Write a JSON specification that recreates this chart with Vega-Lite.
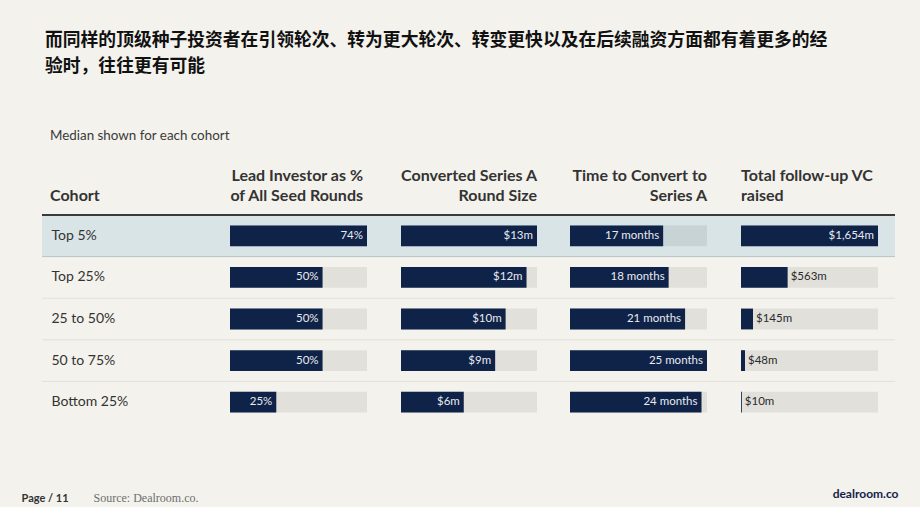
{
  "$schema": "https://vega.github.io/schema/vega-lite/v6.json",
  "background": "#f3f2ec",
  "padding": {"left": 21, "top": 32, "right": 22, "bottom": 4},
  "config": {"view": {"stroke": null}, "font": "Lato"},
  "title": {
    "text": ["而同样的顶级种子投资者在引领轮次、转为更大轮次、转变更快以及在后续融资方面都有着更多的经", "验时，往往更有可能"],
    "anchor": "start", "frame": "group", "dx": 3, "offset": 53,
    "font": "Noto Sans CJK SC", "fontSize": 17.8, "fontWeight": "bold", "color": "#111111", "lineHeight": 25.5
  },
  "data": {"values": [
    {"cohort": "Top 5%", "lead": 0.74, "lead_label": "74%", "size": 13, "size_label": "$13m", "months": 17, "months_label": "17 months", "vc": 1654, "vc_label": "$1,654m"},
    {"cohort": "Top 25%", "lead": 0.50, "lead_label": "50%", "size": 12, "size_label": "$12m", "months": 18, "months_label": "18 months", "vc": 563, "vc_label": "$563m"},
    {"cohort": "25 to 50%", "lead": 0.50, "lead_label": "50%", "size": 10, "size_label": "$10m", "months": 21, "months_label": "21 months", "vc": 145, "vc_label": "$145m"},
    {"cohort": "50 to 75%", "lead": 0.50, "lead_label": "50%", "size": 9, "size_label": "$9m", "months": 25, "months_label": "25 months", "vc": 48, "vc_label": "$48m"},
    {"cohort": "Bottom 25%", "lead": 0.25, "lead_label": "25%", "size": 6, "size_label": "$6m", "months": 24, "months_label": "24 months", "vc": 10, "vc_label": "$10m"}
  ]},
  "spacing": 0,
  "bounds": "flush",
  "resolve": {"scale": {"x": "independent", "y": "shared"}},
  "hconcat": [
    {
      "width": 188, "height": 208,
      "title": {"text": "Median shown for each cohort", "subtitle": "Cohort", "anchor": "start", "frame": "group", "dx": 8, "offset": 10,
        "font": "Lato", "fontSize": 13.4, "fontWeight": "normal", "color": "#3a3a3a",
        "subtitleFont": "Lato", "subtitleFontSize": 16, "subtitleFontWeight": "bold", "subtitleColor": "#333333", "subtitlePadding": 46},
      "layer": [
        {"transform": [{"filter": "datum.cohort == 'Top 5%'"}], "mark": {"type": "rect", "color": "#d8e4e6"},
          "encoding": {"y": {"field": "cohort", "type": "nominal", "scale": {"domain": ["Top 5%", "Top 25%", "25 to 50%", "50 to 75%", "Bottom 25%"], "paddingInner": 0, "paddingOuter": 0},
            "axis": {"orient": "left", "domain": false, "ticks": false, "tickSize": 0, "grid": false, "title": null, "labelPadding": -9, "labelAlign": "left", "labelBaseline": "middle", "labelFont": "Lato", "labelFontSize": 14, "labelColor": "#333333"}}}},
        {"transform": [{"filter": "datum.cohort == 'Top 5%'"}], "mark": {"type": "rule", "color": "#3a3a3a", "strokeWidth": 2},
          "encoding": {"y": {"field": "cohort", "type": "nominal", "bandPosition": 0, "scale": {"domain": ["Top 5%", "Top 25%", "25 to 50%", "50 to 75%", "Bottom 25%"], "paddingInner": 0, "paddingOuter": 0},
            "axis": {"orient": "left", "domain": false, "ticks": false, "tickSize": 0, "grid": false, "title": null, "labelPadding": -9, "labelAlign": "left", "labelBaseline": "middle", "labelFont": "Lato", "labelFontSize": 14, "labelColor": "#333333"}}}},
        {"transform": [{"filter": "datum.cohort == 'Top 25%'"}], "mark": {"type": "rule", "color": "#b9c4c7", "strokeWidth": 1},
          "encoding": {"y": {"field": "cohort", "type": "nominal", "bandPosition": 0, "scale": {"domain": ["Top 5%", "Top 25%", "25 to 50%", "50 to 75%", "Bottom 25%"], "paddingInner": 0, "paddingOuter": 0},
            "axis": {"orient": "left", "domain": false, "ticks": false, "tickSize": 0, "grid": false, "title": null, "labelPadding": -9, "labelAlign": "left", "labelBaseline": "middle", "labelFont": "Lato", "labelFontSize": 14, "labelColor": "#333333"}}}},
        {"transform": [{"filter": "datum.cohort != 'Top 5%' && datum.cohort != 'Top 25%'"}], "mark": {"type": "rule", "color": "#e2e0d9", "strokeWidth": 1},
          "encoding": {"y": {"field": "cohort", "type": "nominal", "bandPosition": 0, "scale": {"domain": ["Top 5%", "Top 25%", "25 to 50%", "50 to 75%", "Bottom 25%"], "paddingInner": 0, "paddingOuter": 0},
            "axis": {"orient": "left", "domain": false, "ticks": false, "tickSize": 0, "grid": false, "title": null, "labelPadding": -9, "labelAlign": "left", "labelBaseline": "middle", "labelFont": "Lato", "labelFontSize": 14, "labelColor": "#333333"}}}}
      ]
    },
    {
      "width": 137, "height": 208,
      "title": {"text": ["Lead Investor as %", "of All Seed Rounds"], "anchor": "end", "frame": "group", "dx": -4, "offset": 10, "font": "Lato", "fontSize": 16, "fontWeight": "bold", "color": "#333333", "lineHeight": 20},
      "layer": [
        {"transform": [{"filter": "datum.cohort == 'Top 5%'"}], "mark": {"type": "rect", "color": "#d8e4e6"}, "encoding": {"y": {"field": "cohort", "type": "nominal", "axis": null}}},
        {"transform": [{"filter": "datum.cohort == 'Top 5%'"}], "mark": {"type": "rule", "color": "#3a3a3a", "strokeWidth": 2}, "encoding": {"y": {"field": "cohort", "type": "nominal", "bandPosition": 0, "axis": null}}},
        {"transform": [{"filter": "datum.cohort == 'Top 25%'"}], "mark": {"type": "rule", "color": "#b9c4c7", "strokeWidth": 1}, "encoding": {"y": {"field": "cohort", "type": "nominal", "bandPosition": 0, "axis": null}}},
        {"transform": [{"filter": "datum.cohort != 'Top 5%' && datum.cohort != 'Top 25%'"}], "mark": {"type": "rule", "color": "#e2e0d9", "strokeWidth": 1}, "encoding": {"y": {"field": "cohort", "type": "nominal", "bandPosition": 0, "axis": null}}},
        {"mark": {"type": "bar", "color": "#000000", "opacity": 0.07, "height": {"band": 0.5}}, "encoding": {"y": {"field": "cohort", "type": "nominal", "axis": null}}},
        {"mark": {"type": "bar", "color": "#0f2248", "height": {"band": 0.5}},
          "encoding": {"y": {"field": "cohort", "type": "nominal", "axis": null},
            "x": {"field": "lead", "type": "quantitative", "scale": {"nice": false, "zero": true},
              "axis": {"domain": false, "ticks": false, "labels": false, "grid": false, "title": "Page / 11", "titleX": -209, "titleY": 78, "titleAlign": "left", "titleAngle": 0, "titleBaseline": "alphabetic", "titleFont": "Lato", "titleFontSize": 11, "titleFontWeight": "bold", "titleColor": "#333333"}}}},
        {"mark": {"type": "text", "align": "right", "baseline": "middle", "dx": -4, "color": "#e8ebf0", "fontSize": 11.5, "font": "Lato"},
          "encoding": {"y": {"field": "cohort", "type": "nominal", "axis": null},
            "x": {"field": "lead", "type": "quantitative",
              "axis": {"domain": false, "ticks": false, "labels": false, "grid": false, "title": "Page / 11", "titleX": -209, "titleY": 78, "titleAlign": "left", "titleAngle": 0, "titleBaseline": "alphabetic", "titleFont": "Lato", "titleFontSize": 11, "titleFontWeight": "bold", "titleColor": "#333333"}},
            "text": {"field": "lead_label"}}}
      ]
    },
    {
      "width": 34, "height": 208,
      "layer": [
        {"transform": [{"filter": "datum.cohort == 'Top 5%'"}], "mark": {"type": "rect", "color": "#d8e4e6"}, "encoding": {"y": {"field": "cohort", "type": "nominal", "axis": null}}},
        {"transform": [{"filter": "datum.cohort == 'Top 5%'"}], "mark": {"type": "rule", "color": "#3a3a3a", "strokeWidth": 2}, "encoding": {"y": {"field": "cohort", "type": "nominal", "bandPosition": 0, "axis": null}}},
        {"transform": [{"filter": "datum.cohort == 'Top 25%'"}], "mark": {"type": "rule", "color": "#b9c4c7", "strokeWidth": 1}, "encoding": {"y": {"field": "cohort", "type": "nominal", "bandPosition": 0, "axis": null}}},
        {"transform": [{"filter": "datum.cohort != 'Top 5%' && datum.cohort != 'Top 25%'"}], "mark": {"type": "rule", "color": "#e2e0d9", "strokeWidth": 1}, "encoding": {"y": {"field": "cohort", "type": "nominal", "bandPosition": 0, "axis": null}}}
      ]
    },
    {
      "width": 136, "height": 208,
      "title": {"text": ["Converted Series A", "Round Size"], "anchor": "end", "frame": "group", "offset": 10, "font": "Lato", "fontSize": 16, "fontWeight": "bold", "color": "#333333", "lineHeight": 20},
      "layer": [
        {"transform": [{"filter": "datum.cohort == 'Top 5%'"}], "mark": {"type": "rect", "color": "#d8e4e6"}, "encoding": {"y": {"field": "cohort", "type": "nominal", "axis": null}}},
        {"transform": [{"filter": "datum.cohort == 'Top 5%'"}], "mark": {"type": "rule", "color": "#3a3a3a", "strokeWidth": 2}, "encoding": {"y": {"field": "cohort", "type": "nominal", "bandPosition": 0, "axis": null}}},
        {"transform": [{"filter": "datum.cohort == 'Top 25%'"}], "mark": {"type": "rule", "color": "#b9c4c7", "strokeWidth": 1}, "encoding": {"y": {"field": "cohort", "type": "nominal", "bandPosition": 0, "axis": null}}},
        {"transform": [{"filter": "datum.cohort != 'Top 5%' && datum.cohort != 'Top 25%'"}], "mark": {"type": "rule", "color": "#e2e0d9", "strokeWidth": 1}, "encoding": {"y": {"field": "cohort", "type": "nominal", "bandPosition": 0, "axis": null}}},
        {"mark": {"type": "bar", "color": "#000000", "opacity": 0.07, "height": {"band": 0.5}}, "encoding": {"y": {"field": "cohort", "type": "nominal", "axis": null}}},
        {"mark": {"type": "bar", "color": "#0f2248", "height": {"band": 0.5}},
          "encoding": {"y": {"field": "cohort", "type": "nominal", "axis": null},
            "x": {"field": "size", "type": "quantitative", "scale": {"nice": false, "zero": true},
              "axis": {"domain": false, "ticks": false, "labels": false, "grid": false, "title": "Source: Dealroom.co.", "titleX": -308, "titleY": 78, "titleAlign": "left", "titleAngle": 0, "titleBaseline": "alphabetic", "titleFont": "Liberation Serif", "titleFontSize": 12, "titleFontWeight": "normal", "titleColor": "#6e6e6e"}}}},
        {"mark": {"type": "text", "align": "right", "baseline": "middle", "dx": -4, "color": "#e8ebf0", "fontSize": 11.5, "font": "Lato"},
          "encoding": {"y": {"field": "cohort", "type": "nominal", "axis": null},
            "x": {"field": "size", "type": "quantitative",
              "axis": {"domain": false, "ticks": false, "labels": false, "grid": false, "title": "Source: Dealroom.co.", "titleX": -308, "titleY": 78, "titleAlign": "left", "titleAngle": 0, "titleBaseline": "alphabetic", "titleFont": "Liberation Serif", "titleFontSize": 12, "titleFontWeight": "normal", "titleColor": "#6e6e6e"}},
            "text": {"field": "size_label"}}}
      ]
    },
    {
      "width": 33, "height": 208,
      "layer": [
        {"transform": [{"filter": "datum.cohort == 'Top 5%'"}], "mark": {"type": "rect", "color": "#d8e4e6"}, "encoding": {"y": {"field": "cohort", "type": "nominal", "axis": null}}},
        {"transform": [{"filter": "datum.cohort == 'Top 5%'"}], "mark": {"type": "rule", "color": "#3a3a3a", "strokeWidth": 2}, "encoding": {"y": {"field": "cohort", "type": "nominal", "bandPosition": 0, "axis": null}}},
        {"transform": [{"filter": "datum.cohort == 'Top 25%'"}], "mark": {"type": "rule", "color": "#b9c4c7", "strokeWidth": 1}, "encoding": {"y": {"field": "cohort", "type": "nominal", "bandPosition": 0, "axis": null}}},
        {"transform": [{"filter": "datum.cohort != 'Top 5%' && datum.cohort != 'Top 25%'"}], "mark": {"type": "rule", "color": "#e2e0d9", "strokeWidth": 1}, "encoding": {"y": {"field": "cohort", "type": "nominal", "bandPosition": 0, "axis": null}}}
      ]
    },
    {
      "width": 137, "height": 208,
      "title": {"text": ["Time to Convert to", "Series A"], "anchor": "end", "frame": "group", "offset": 10, "font": "Lato", "fontSize": 16, "fontWeight": "bold", "color": "#333333", "lineHeight": 20},
      "layer": [
        {"transform": [{"filter": "datum.cohort == 'Top 5%'"}], "mark": {"type": "rect", "color": "#d8e4e6"}, "encoding": {"y": {"field": "cohort", "type": "nominal", "axis": null}}},
        {"transform": [{"filter": "datum.cohort == 'Top 5%'"}], "mark": {"type": "rule", "color": "#3a3a3a", "strokeWidth": 2}, "encoding": {"y": {"field": "cohort", "type": "nominal", "bandPosition": 0, "axis": null}}},
        {"transform": [{"filter": "datum.cohort == 'Top 25%'"}], "mark": {"type": "rule", "color": "#b9c4c7", "strokeWidth": 1}, "encoding": {"y": {"field": "cohort", "type": "nominal", "bandPosition": 0, "axis": null}}},
        {"transform": [{"filter": "datum.cohort != 'Top 5%' && datum.cohort != 'Top 25%'"}], "mark": {"type": "rule", "color": "#e2e0d9", "strokeWidth": 1}, "encoding": {"y": {"field": "cohort", "type": "nominal", "bandPosition": 0, "axis": null}}},
        {"mark": {"type": "bar", "color": "#000000", "opacity": 0.07, "height": {"band": 0.5}}, "encoding": {"y": {"field": "cohort", "type": "nominal", "axis": null}}},
        {"mark": {"type": "bar", "color": "#0f2248", "height": {"band": 0.5}},
          "encoding": {"y": {"field": "cohort", "type": "nominal", "axis": null},
            "x": {"field": "months", "type": "quantitative", "scale": {"nice": false, "zero": true}, "axis": null}}},
        {"mark": {"type": "text", "align": "right", "baseline": "middle", "dx": -4, "color": "#e8ebf0", "fontSize": 11.5, "font": "Lato"},
          "encoding": {"y": {"field": "cohort", "type": "nominal", "axis": null},
            "x": {"field": "months", "type": "quantitative", "axis": null},
            "text": {"field": "months_label"}}}
      ]
    },
    {
      "width": 34, "height": 208,
      "layer": [
        {"transform": [{"filter": "datum.cohort == 'Top 5%'"}], "mark": {"type": "rect", "color": "#d8e4e6"}, "encoding": {"y": {"field": "cohort", "type": "nominal", "axis": null}}},
        {"transform": [{"filter": "datum.cohort == 'Top 5%'"}], "mark": {"type": "rule", "color": "#3a3a3a", "strokeWidth": 2}, "encoding": {"y": {"field": "cohort", "type": "nominal", "bandPosition": 0, "axis": null}}},
        {"transform": [{"filter": "datum.cohort == 'Top 25%'"}], "mark": {"type": "rule", "color": "#b9c4c7", "strokeWidth": 1}, "encoding": {"y": {"field": "cohort", "type": "nominal", "bandPosition": 0, "axis": null}}},
        {"transform": [{"filter": "datum.cohort != 'Top 5%' && datum.cohort != 'Top 25%'"}], "mark": {"type": "rule", "color": "#e2e0d9", "strokeWidth": 1}, "encoding": {"y": {"field": "cohort", "type": "nominal", "bandPosition": 0, "axis": null}}}
      ]
    },
    {
      "width": 137, "height": 208,
      "title": {"text": ["Total follow-up VC", "raised"], "anchor": "start", "frame": "group", "offset": 10, "font": "Lato", "fontSize": 16, "fontWeight": "bold", "color": "#333333", "lineHeight": 20},
      "layer": [
        {"transform": [{"filter": "datum.cohort == 'Top 5%'"}], "mark": {"type": "rect", "color": "#d8e4e6"}, "encoding": {"y": {"field": "cohort", "type": "nominal", "axis": null}}},
        {"transform": [{"filter": "datum.cohort == 'Top 5%'"}], "mark": {"type": "rule", "color": "#3a3a3a", "strokeWidth": 2}, "encoding": {"y": {"field": "cohort", "type": "nominal", "bandPosition": 0, "axis": null}}},
        {"transform": [{"filter": "datum.cohort == 'Top 25%'"}], "mark": {"type": "rule", "color": "#b9c4c7", "strokeWidth": 1}, "encoding": {"y": {"field": "cohort", "type": "nominal", "bandPosition": 0, "axis": null}}},
        {"transform": [{"filter": "datum.cohort != 'Top 5%' && datum.cohort != 'Top 25%'"}], "mark": {"type": "rule", "color": "#e2e0d9", "strokeWidth": 1}, "encoding": {"y": {"field": "cohort", "type": "nominal", "bandPosition": 0, "axis": null}}},
        {"mark": {"type": "bar", "color": "#000000", "opacity": 0.07, "height": {"band": 0.5}}, "encoding": {"y": {"field": "cohort", "type": "nominal", "axis": null}}},
        {"mark": {"type": "bar", "color": "#0f2248", "height": {"band": 0.5}},
          "encoding": {"y": {"field": "cohort", "type": "nominal", "axis": null},
            "x": {"field": "vc", "type": "quantitative", "scale": {"nice": false, "zero": true},
              "axis": {"domain": false, "ticks": false, "labels": false, "grid": false, "title": "dealroom.co", "titleX": 157, "titleY": 74, "titleAlign": "right", "titleAngle": 0, "titleBaseline": "alphabetic", "titleFont": "Lato", "titleFontSize": 12, "titleFontWeight": "bold", "titleColor": "#14234a"}}}},
        {"transform": [{"filter": "datum.vc >= 1000"}],
          "mark": {"type": "text", "align": "right", "baseline": "middle", "dx": -4, "color": "#e8ebf0", "fontSize": 11.5, "font": "Lato"},
          "encoding": {"y": {"field": "cohort", "type": "nominal", "axis": null},
            "x": {"field": "vc", "type": "quantitative",
              "axis": {"domain": false, "ticks": false, "labels": false, "grid": false, "title": "dealroom.co", "titleX": 157, "titleY": 74, "titleAlign": "right", "titleAngle": 0, "titleBaseline": "alphabetic", "titleFont": "Lato", "titleFontSize": 12, "titleFontWeight": "bold", "titleColor": "#14234a"}},
            "text": {"field": "vc_label"}}},
        {"transform": [{"filter": "datum.vc < 1000"}],
          "mark": {"type": "text", "align": "left", "baseline": "middle", "dx": 3, "color": "#2b2b2b", "fontSize": 11.5, "font": "Lato"},
          "encoding": {"y": {"field": "cohort", "type": "nominal", "axis": null},
            "x": {"field": "vc", "type": "quantitative",
              "axis": {"domain": false, "ticks": false, "labels": false, "grid": false, "title": "dealroom.co", "titleX": 157, "titleY": 74, "titleAlign": "right", "titleAngle": 0, "titleBaseline": "alphabetic", "titleFont": "Lato", "titleFontSize": 12, "titleFontWeight": "bold", "titleColor": "#14234a"}},
            "text": {"field": "vc_label"}}}
      ]
    },
    {
      "width": 17, "height": 208,
      "layer": [
        {"transform": [{"filter": "datum.cohort == 'Top 5%'"}], "mark": {"type": "rect", "color": "#d8e4e6"}, "encoding": {"y": {"field": "cohort", "type": "nominal", "axis": null}}},
        {"transform": [{"filter": "datum.cohort == 'Top 5%'"}], "mark": {"type": "rule", "color": "#3a3a3a", "strokeWidth": 2}, "encoding": {"y": {"field": "cohort", "type": "nominal", "bandPosition": 0, "axis": null}}},
        {"transform": [{"filter": "datum.cohort == 'Top 25%'"}], "mark": {"type": "rule", "color": "#b9c4c7", "strokeWidth": 1}, "encoding": {"y": {"field": "cohort", "type": "nominal", "bandPosition": 0, "axis": null}}},
        {"transform": [{"filter": "datum.cohort != 'Top 5%' && datum.cohort != 'Top 25%'"}], "mark": {"type": "rule", "color": "#e2e0d9", "strokeWidth": 1}, "encoding": {"y": {"field": "cohort", "type": "nominal", "bandPosition": 0, "axis": null}}}
      ]
    }
  ]
}
